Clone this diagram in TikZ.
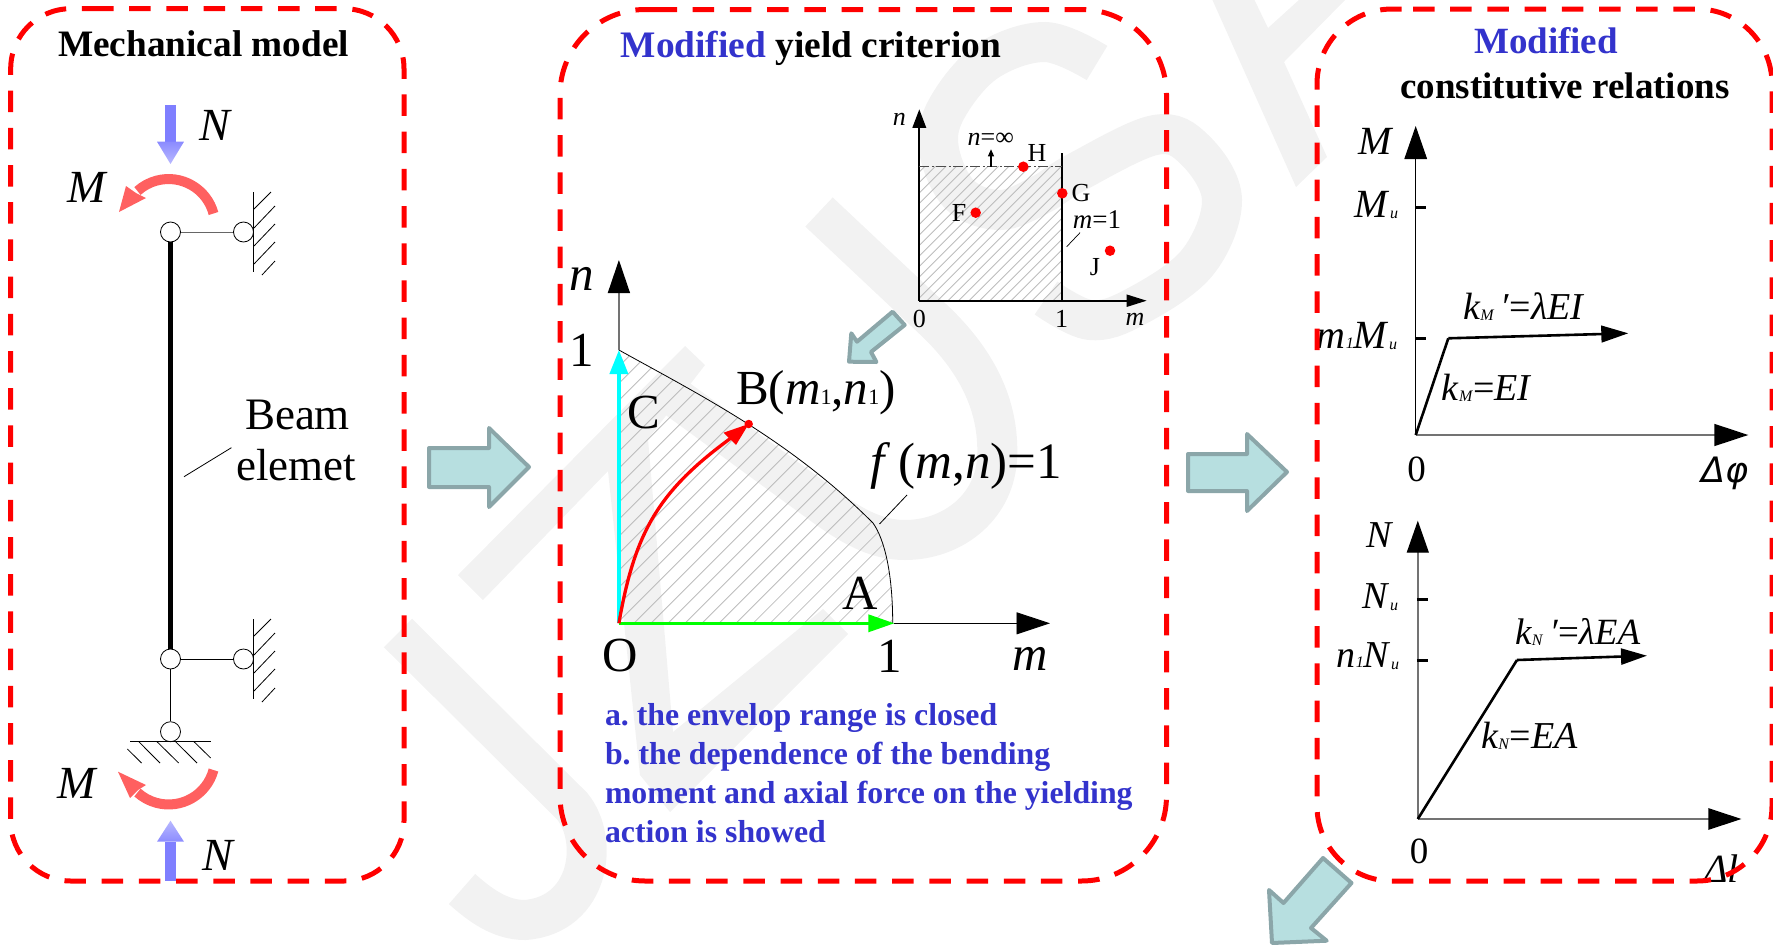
\documentclass[tikz,border=0pt]{standalone}
\usepackage{fontspec}
\setmainfont{Liberation Serif}
\newfontfamily\djv{DejaVu Sans}
\usetikzlibrary{arrows.meta}
\definecolor{wmgray}{HTML}{F2F2F2}
\definecolor{boxred}{HTML}{FF0000}
\definecolor{titleblue}{HTML}{3333CC}
\definecolor{blockfill}{HTML}{B7DFE0}
\definecolor{blockline}{HTML}{8BA6A9}
\definecolor{forcered}{HTML}{FF6060}
\definecolor{forceblue}{HTML}{7F7FFF}
\definecolor{hatchgray}{HTML}{BDBDBD}
\definecolor{purecyan}{HTML}{00FFFF}
\definecolor{puregreen}{HTML}{00FF00}
\newcommand{\fs}[1]{\fontsize{#1}{#1}\selectfont}
\newcommand{\sbi}[1]{{\fs{16}\raisebox{-0.1em}{\textit{#1}}}}
\tikzset{
 x=1pt,y=-1pt,
 redbox/.style={draw=boxred,line width=5pt,dash pattern=on 21.5pt off 15.7pt},
 wm/.style={draw=wmgray,line width=40pt},
 wmf/.style={fill=wmgray},
 blockarrow/.style={draw=blockline,fill=blockfill,line width=4pt,line join=round},
 lbl/.style={inner sep=0pt,outer sep=0pt,text=black},
 hing/.style={circle,draw=black,fill=white,line width=0.8pt,minimum size=20pt,inner sep=0pt},
 thin line/.style={draw=black,line width=0.8pt},
 grayaxis/.style={draw=black!55,line width=1.4pt},
 hatchl/.style={draw=hatchgray,line width=0.8pt},
 forcearc/.style={draw=forcered,line width=10pt},
 reddot/.style={circle,fill=red,inner sep=0pt,minimum size=10.5pt},
}
\begin{document}
\frenchspacing
\begin{tikzpicture}
\useasboundingbox (0,0) rectangle (1773,945);
% watermark
\draw[wm] (398,633) -- (572,806) .. controls (600,840) and (590,915) .. (525,920) .. controls (500,920) and (480,905) .. (462,889);
\fill[wmf] (458,575) -- (685,346) -- (705,365) -- (648,439) -- (673,732) -- (823,609) -- (848,634) -- (670,812) -- (640,775) -- (608,471) -- (483,600) -- cycle;
\draw[wm] (819,212) -- (937,323) .. controls (980,365) and (1000,410) .. (997,460) .. controls (993,510) and (950,540) .. (905,540) .. controls (875,540) and (850,525) .. (820,503) -- (668,392);
\draw[wm] plot[smooth,tension=0.6] coordinates {(1097,63) (1045,42) (986,62) (946,110) (939,150) (960,195) (1000,210) (1040,195) (1077,172) (1155,135) (1195,150) (1222,200) (1197,263) (1135,307) (1090,320) (1046,298)};
\fill[wmf] (1212,-1) -- (1296,187) -- (1327,157) -- (1284,62) -- (1346,-1) -- (1300,-1) -- (1268,28) -- (1254,-1) -- cycle;

% mechanical model
\node[lbl,anchor=base west] (t1) at (58,56.7) {\fs{37.3}\bfseries Mechanical model};
\node[hing] (h1) at (170.5,232) {};
\node[hing] (h2) at (243.5,232) {};
\node[hing] (h3) at (170.5,659) {};
\node[hing] (h4) at (243.5,659) {};
\node[hing] (h5) at (170.5,731.7) {};
\draw[draw=black!60,line width=1pt] (h1) -- (h2);
\draw[thin line] (h3) -- (h4);
\draw[thin line] (h3) -- (h5);
\draw[line width=4.6pt] (h1.south) -- (h3.north);
\draw[thin line] (253.8,192) -- (253.8,272);
\draw[thin line] (254,209)--(271,192) (254,228)--(275,206) (254,246)--(275,224) (254,264)--(275,242) (262,275)--(275,261);
\draw[thin line] (253.8,619) -- (253.8,699);
\draw[thin line] (254,636)--(271,619) (254,655)--(275,633) (254,673)--(275,651) (254,691)--(275,669) (262,702)--(275,688);
\draw[thin line] (130,741.7) -- (210.7,741.7);
\draw[thin line] (138.8,741.7)--(160,763) (157,741.7)--(178.7,763) (175.6,741.7)--(197,763) (194,741.7)--(210.7,758) (127.4,749)--(141.5,763);
% forces
\fill[forceblue] (165,105) rectangle (176,142);
\shade[top color=forceblue!110!blue,bottom color=forceblue!55] (157,141.7) -- (184,141.7) -- (170.5,164) -- cycle;
\fill[forceblue] (165,842) rectangle (176,881);
\shade[bottom color=forceblue!110!blue,top color=forceblue!55] (157,841.7) -- (184,841.7) -- (170.5,820.7) -- cycle;
\draw[forcearc] (213.5,213.5) arc (-15:-132:46.5);
\fill[forcered] (119,212) -- (126,186) -- (136,193) -- (146,198) -- cycle;
\draw[forcearc] (213.5,770) arc (15:132:46.5);
\fill[forcered] (118,771.7) -- (130,798) -- (138,790) -- (146,785) -- cycle;
\node[lbl] (lN1) at (216,125) {\fs{46}\textit{N}};
\node[lbl] (lM1) at (88,187) {\fs{46}\textit{M}};
\node[lbl] (lM2) at (77.5,783) {\fs{46}\textit{M}};
\node[lbl] (lN2) at (219,855) {\fs{46}\textit{N}};
\node[lbl] (lBeam) at (297.5,415) {\fs{45}Beam};
\node[lbl] (lElem) at (296,465) {\fs{45}elemet};
\coordinate (bl1) at (184,476.7);
\coordinate (bl2) at (231.4,447.7);
\draw[thin line] (bl1) -- (bl2);

% block arrows
\draw[blockarrow] (429,448) -- (489,448) -- (489,428) -- (529,467) -- (489,507) -- (489,487) -- (429,487) -- cycle;
\draw[blockarrow] (1188,454) -- (1247,454) -- (1247,434) -- (1287,472) -- (1247,511) -- (1247,491) -- (1188,491) -- cycle;
\draw[blockarrow] (892.6,311.7) -- (904.7,325) -- (871,352) -- (876.4,362) -- (849,361.7) -- (851.3,333.3) -- (857,341.7) -- cycle;

% yield criterion
\node[lbl,anchor=base west] (t2) at (620.7,57) {\fs{37.4}\bfseries\textcolor{titleblue}{Modified} yield criterion};
% inset
\begin{scope}
\clip (919.3,166.7) rectangle (1062.3,300.7);
\foreach \i in {780,790.5,...,1062} \draw[hatchl] (\i,300.7) -- ({\i+140},160.7);
\end{scope}
\coordinate (io) at (919.3,300.7);
\coordinate (in) at (919.3,109.3);
\coordinate (im) at (1146.7,300.7);
\coordinate (ia) at (1062.3,300.7);
\coordinate (ib) at (1062.3,152.7);
\coordinate (it) at (919.3,166.7);
\coordinate (iu) at (1062.3,166.7);
\coordinate (ia1) at (991,166.7);
\coordinate (ia2) at (991,149.3);
\draw[line width=1.8pt,-{Triangle[length=18.5pt,width=13.5pt]}] (io) -- (in);
\draw[line width=1.8pt,-{Triangle[length=20pt,width=12pt]}] (io) -- (im);
\draw[line width=1.8pt] (ia) -- (ib);
\draw[draw=black!70,line width=0.9pt,dash pattern=on 10pt off 2.5pt on 2pt off 2.5pt] (it) -- (iu);
\draw[line width=1.2pt,-{Triangle[length=7pt,width=6pt]}] (ia1) -- (ia2);
\node[reddot] (dH) at (1023.3,166.7) {};
\node[reddot] (dG) at (1062.3,193.3) {};
\node[reddot] (dF) at (975.7,212.7) {};
\node[reddot] (dJ) at (1110,250.7) {};
\node[lbl] (lH) at (1037,152.7) {\fs{26}H};
\node[lbl] (lG) at (1081,192.7) {\fs{26}G};
\node[lbl] (lF) at (959,212.7) {\fs{26}F};
\node[lbl] (lJ) at (1095,266.7) {\fs{26}J};
\node[lbl] (ln0) at (899.3,119.3) {\fs{26}\textit{n}};
\node[lbl] (lninf) at (990.7,139) {\fs{26}\textit{n}=∞};
\node[lbl] (lm1) at (1097,220) {\fs{27}\textit{m}=1};
\coordinate (ml1) at (1080,232.7);
\coordinate (ml2) at (1066.7,246.7);
\draw[line width=0.7pt] (ml1) -- (ml2);
\node[lbl] (i0) at (919.3,319) {\fs{26}0};
\node[lbl] (i1) at (1061.7,319) {\fs{26}1};
\node[lbl] (im0) at (1135,319) {\fs{26}\textit{m}};
% main yield plot
\begin{scope}
\clip (618.9,350) .. controls (700,395) and (790,440) .. (873,523) .. controls (885,540) and (892.7,575) .. (892.7,623.3) -- (618.9,623.3) -- cycle;
\foreach \i in {345,362,...,893} \draw[hatchl] (\i,623.3) -- ({\i+300},323.3);
\end{scope}
\draw[line width=0.8pt] (618.9,350) .. controls (700,395) and (790,440) .. (873,523) .. controls (885,540) and (892.7,575) .. (892.7,623.3);
\coordinate (mo) at (618.9,623.3);
\coordinate (mn) at (618.9,260);
\coordinate (mc) at (618.9,350);
\coordinate (ma) at (894.4,623.3);
\coordinate (mm) at (1050,623.3);
\draw[grayaxis,-{Triangle[length=33pt,width=22pt,black]}] (mc) -- (mn);
\draw[line width=0.9pt,-{Triangle[length=33.5pt,width=22pt]}] (ma) -- (mm);
\draw[draw=purecyan,line width=3.6pt,-{Triangle[length=24pt,width=18pt]}] (mo) -- (mc);
\draw[draw=puregreen,line width=3.4pt,-{Triangle[length=26pt,width=17pt]}] (mo) -- (ma);
\node[reddot,minimum size=8.5pt] (dB) at (748.7,424) {};
\coordinate (rc) at (731,438);
\draw[draw=red,line width=3.3pt] (mo) .. controls (635,530) and (660,490) .. (rc);
\fill[red] (748.7,424) -- (723.5,432.7) -- (730,439) -- (736,445) -- cycle;
\node[lbl] (ln) at (581.7,279) {\fs{49}\textit{n}};
\node[lbl] (l1a) at (581.7,350) {\fs{49}1};
\node[lbl] (lC) at (643.7,412.3) {\fs{49}C};
\node[lbl] (lB) at (816,393) {\fs{49}B(\textit{m}{\fs{22}1},\textit{n}{\fs{22}1})};
\node[lbl] (lf) at (966,466) {\fs{51}\textit{f}\,(\textit{m},\textit{n})=1};
\coordinate (fl1) at (907,495);
\coordinate (fl2) at (879.5,524);
\draw[line width=0.8pt] (fl1) -- (fl2);
\node[lbl] (lA) at (860,593.3) {\fs{49}A};
\node[lbl] (lO) at (620,656) {\fs{49}O};
\node[lbl] (l1b) at (890,656) {\fs{49}1};
\node[lbl] (lmm) at (1030,659) {\fs{49}\textit{m}};
% blue text
\node[lbl,anchor=base west,text=titleblue] (b1) at (605,725) {\fs{31.8}\bfseries a. the envelop range is closed};
\node[lbl,anchor=base west,text=titleblue] (b2) at (605,764) {\fs{31.8}\bfseries b. the dependence of the bending};
\node[lbl,anchor=base west,text=titleblue] (b3) at (605,803) {\fs{31.8}\bfseries moment and axial force on the yielding};
\node[lbl,anchor=base west,text=titleblue] (b4) at (605,842) {\fs{31.8}\bfseries action is showed};

% constitutive
\node[lbl,anchor=base] (t3a) at (1546,53) {\fs{37}\bfseries\textcolor{titleblue}{Modified}};
\node[lbl,anchor=base] (t3b) at (1565,98) {\fs{37}\bfseries constitutive relations};
\coordinate (uo) at (1415.7,435);
\coordinate (um) at (1415.7,126);
\coordinate (ux) at (1748.3,435);
\coordinate (uk) at (1448.3,338.3);
\coordinate (ue) at (1628.3,333.3);
\draw[line width=1pt,-{Triangle[length=33pt,width=22.6pt]}] (uo) -- (um);
\draw[grayaxis,-{Triangle[length=34pt,width=22pt,black]}] (uo) -- (ux);
\draw[line width=2.6pt] (1415,207.3) -- (1426,207.3);
\draw[line width=2.6pt] (1415,338.3) -- (1426,338.3);
\draw[line width=2.6pt,line join=round] (uo) -- (uk);
\draw[line width=2.6pt,-{Triangle[length=27pt,width=16.6pt]}] (uk) -- (ue);
\node[lbl] (uM) at (1376,141.7) {\fs{40}\textit{M}};
\node[lbl,anchor=east] (uMu) at (1398,205) {\fs{40}\textit{M}\sbi{u}};
\node[lbl,anchor=east] (um1) at (1397,336) {\fs{40}\textit{m}{\fs{16}\textit{1}}\textit{M}\sbi{u}};
\node[lbl,anchor=west] (uk1) at (1463,306.7) {\fs{38}\textit{k}\sbi{M}\,\textit{′}=\textit{λEI}};
\node[lbl,anchor=west] (uk2) at (1441.7,388) {\fs{38}\textit{k}\sbi{M}=\textit{EI}};
\node[lbl] (u0) at (1416.7,469) {\fs{37}0};
\node[lbl] (udp) at (1725,473) {\fs{35}\djv\itshape Δφ};
\coordinate (lo) at (1417.8,819);
\coordinate (lnn) at (1417.8,520.7);
\coordinate (lx) at (1741.4,819);
\coordinate (lk) at (1517,660);
\coordinate (le) at (1647,655.7);
\draw[grayaxis,-{Triangle[length=32pt,width=22pt,black]}] (lo) -- (lnn);
\draw[grayaxis,-{Triangle[length=33pt,width=21.4pt,black]}] (lo) -- (lx);
\draw[line width=2.6pt] (1416.8,599.3) -- (1428,599.3);
\draw[line width=2.6pt] (1416.8,660.3) -- (1428,660.3);
\draw[line width=2.6pt,line join=round] (lo) -- (lk);
\draw[line width=2.6pt,-{Triangle[length=26pt,width=16pt]}] (lk) -- (le);
\node[lbl] (lN) at (1380,535) {\fs{38}\textit{N}};
\node[lbl,anchor=east] (lNu) at (1398,597) {\fs{38}\textit{N}\sbi{u}};
\node[lbl,anchor=east] (ln1) at (1399,656) {\fs{38}\textit{n}{\fs{16}\textit{1}}\textit{N}\sbi{u}};
\node[lbl,anchor=west] (lk1) at (1515,632) {\fs{37}\textit{k}\sbi{N}\,\textit{′}=\textit{λEA}};
\node[lbl,anchor=west] (lk2) at (1481,736) {\fs{38}\textit{k}\sbi{N}=\textit{EA}};
\node[lbl] (l0) at (1419,851.7) {\fs{37}0};
\begin{scope}
\clip (1690,840) rectangle (1773,881);
\node[lbl,anchor=base west] (ldl) at (1704,882) {\fs{40}\textit{Δl}};
\end{scope}

% dashed panels
\draw[redbox,rounded corners=60pt] (92,8.7) -- (404,8.7) -- (404,881) -- (10.7,881) -- (10.7,8.7) -- (92,8.7);
\draw[redbox,rounded corners=85pt] (655.5,9.5) -- (1166.5,9.5) -- (1166.5,881) -- (560,881) -- (560,9.5) -- (655.5,9.5);
\draw[redbox,rounded corners=75pt] (1413,9) -- (1772,9) -- (1772,881) -- (1317,881) -- (1317,9) -- (1413,9);

\draw[blockarrow] (1323,858) -- (1351.5,883) -- (1311,928) -- (1326.7,940.7) -- (1272,943) -- (1269,890) -- (1283.5,903) -- cycle;
\end{tikzpicture}
\end{document}
